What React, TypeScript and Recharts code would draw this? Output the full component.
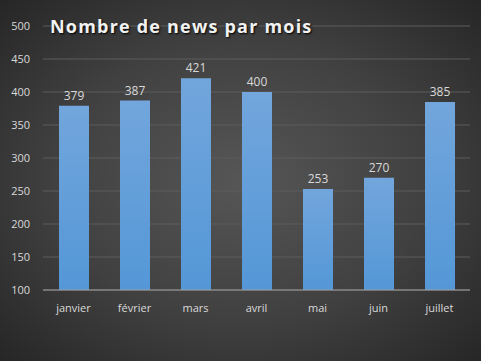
import React from "react";
import { BarChart, Bar, XAxis, YAxis, CartesianGrid, LabelList } from "recharts";

const months = ["janvier", "février", "mars", "avril", "mai", "juin", "juillet"];
const newsCounts = [379, 387, 421, 400, 253, 270, 385];
const yTicks = [100, 150, 200, 250, 300, 350, 400, 450, 500];
const title = "Nombre de news par mois";

const data = months.map((m, i) => ({ month: m, value: newsCounts[i] }));

const FONT = "'Open Sans', 'Liberation Sans', sans-serif";

export default function App() {
  return (
    <div
      style={{
        position: "absolute",
        left: 0,
        top: 0,
        width: 481,
        height: 361,
        background: "radial-gradient(ellipse at 50% 50%, #565656 0%, #404040 55%, #262626 100%)",
        fontFamily: FONT,
        overflow: "hidden",
      }}
    >
      <BarChart
        width={481}
        height={361}
        data={data}
        margin={{ top: 26, right: 11, bottom: 41, left: 0 }}
        barCategoryGap="25%"
      >
        <defs>
          <linearGradient id="barGrad" x1="0" y1="0" x2="0" y2="1">
            <stop offset="0%" stopColor="#72a6dc" />
            <stop offset="100%" stopColor="#5497d7" />
          </linearGradient>
        </defs>
        <CartesianGrid vertical={false} stroke="#5c5c5c" strokeWidth={1} />
        <XAxis
          dataKey="month"
          height={30}
          tickLine={false}
          axisLine={{ stroke: "#a0a0a0", strokeWidth: 1 }}
          tick={{ fill: "#d9d9d9", fontSize: 11, fontFamily: FONT }}
          tickMargin={8}
          interval={0}
        />
        <YAxis
          width={43}
          domain={[100, 500]}
          ticks={yTicks}
          allowDataOverflow
          tickLine={false}
          axisLine={false}
          tick={{ fill: "#d9d9d9", fontSize: 11, fontFamily: FONT }}
          tickMargin={7}
        />
        <Bar dataKey="value" fill="url(#barGrad)" barSize={30} isAnimationActive={false}>
          <LabelList
            dataKey="value"
            position="top"
            offset={6}
            fill="#d9d9d9"
            fontSize={12}
            fontFamily={FONT}
          />
        </Bar>
      </BarChart>
      <div
        style={{
          position: "absolute",
          left: 50,
          top: 12,
          color: "#f2f2f2",
          fontSize: 18,
          fontWeight: 700,
          letterSpacing: 1.2,
          fontFamily: FONT,
          textShadow: "1px 1px 2px #000",
          whiteSpace: "nowrap",
          lineHeight: "28px",
        }}
      >
        {title}
      </div>
    </div>
  );
}
